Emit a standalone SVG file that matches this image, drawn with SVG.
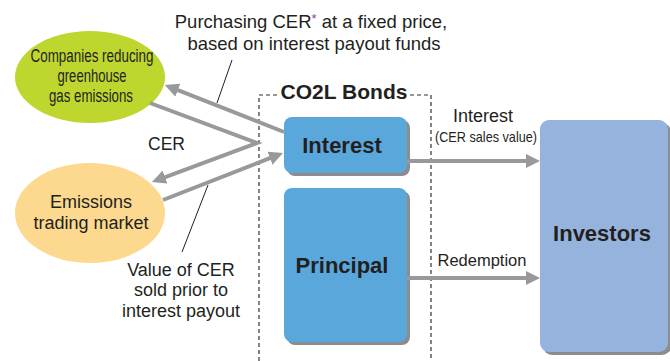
<svg xmlns="http://www.w3.org/2000/svg" width="670" height="361" viewBox="0 0 670 361">
  <style>
    text { font-family: "Liberation Sans", Arial, sans-serif; fill: #231f20; }
    .lbl { font-size: 18px; }
    .mid { text-anchor: middle; }
    .bold { font-weight: bold; }
    .narrow { font-size: 18px; }
    .flow { fill: none; stroke: #98999b; stroke-width: 4; }
    .leader { fill: none; stroke: #231f20; stroke-width: 1; }
    .frame { fill: none; stroke: #333; stroke-width: 1.2; stroke-dasharray: 4 3; }
    .shadow { fill: #8c8c8c; }
    .bond { fill: #5aa7dc; }
    .inv { fill: #95b3dd; }
  </style>
  <defs>
    <marker id="arrow" viewBox="0 0 14 14" markerWidth="14" markerHeight="14" refX="2" refY="7" orient="auto" markerUnits="userSpaceOnUse">
      <path d="M0,0 L14,7 L0,14 z" fill="#98999b"/>
    </marker>
  </defs>

  <!-- CO2L bond boundary -->
  <path class="frame" d="M259,361 V95 H279 M410,95 H431 V361"/>
  <text class="bold mid" x="344" y="99" style="font-size:21px">CO2L Bonds</text>

  <g id="companies">
    <ellipse cx="90" cy="77" rx="75" ry="46" fill="#bfd62f"/>
    <text class="narrow mid" x="92" y="62" textLength="123" lengthAdjust="spacingAndGlyphs">Companies reducing</text>
    <text class="narrow mid" x="92" y="82" textLength="69" lengthAdjust="spacingAndGlyphs">greenhouse</text>
    <text class="narrow mid" x="91" y="102" textLength="84" lengthAdjust="spacingAndGlyphs">gas emissions</text>
  </g>

  <g id="market">
    <ellipse cx="90" cy="213" rx="75" ry="50" fill="#fcd98e"/>
    <text class="lbl mid" x="91" y="208">Emissions</text>
    <text class="lbl mid" x="91" y="229">trading market</text>
  </g>

  <g id="interest">
    <rect class="shadow" x="287" y="120" width="123" height="56" rx="8"/>
    <rect class="bond" x="284" y="117" width="123" height="56" rx="8"/>
    <text class="bold mid" x="342" y="153" style="font-size:22px">Interest</text>
  </g>

  <g id="principal">
    <rect class="shadow" x="287" y="191" width="123" height="154" rx="8"/>
    <rect class="bond" x="284" y="188" width="123" height="154" rx="8"/>
    <text class="bold mid" x="342" y="273" style="font-size:22px">Principal</text>
  </g>

  <g id="investors">
    <rect class="shadow" x="543" y="123" width="128" height="232" rx="9"/>
    <rect class="inv" x="540" y="120" width="128" height="232" rx="9"/>
    <text class="bold mid" x="602" y="241" style="font-size:22px">Investors</text>
  </g>

  <g id="connectors">
    <!-- CER purchase flow back to companies -->
    <line class="flow" x1="284" y1="132" x2="176" y2="89.4" marker-end="url(#arrow)"/>
    <!-- CER routed from companies to the market -->
    <polyline class="flow" points="150,103 257,143 163.2,177.8" marker-end="url(#arrow)"/>
    <!-- sale proceeds into interest -->
    <line class="flow" x1="163" y1="200" x2="271.8" y2="157.4" marker-end="url(#arrow)"/>
    <!-- payouts to investors -->
    <line class="flow" x1="407" y1="161" x2="528" y2="161" marker-end="url(#arrow)"/>
    <line class="flow" x1="407" y1="278" x2="528" y2="278" marker-end="url(#arrow)"/>
    <!-- callout leaders -->
    <line class="leader" x1="232" y1="60" x2="217" y2="103"/>
    <line class="leader" x1="208" y1="185" x2="182" y2="252"/>
  </g>

  <g id="labels">
    <text class="mid" x="311" y="28" style="font-size:18.5px">Purchasing CER<tspan fill="#9b3a96" font-size="13" dy="-5">*</tspan><tspan dy="5"> at a fixed price,</tspan></text>
    <text class="mid" x="314" y="50" style="font-size:18.5px">based on interest payout funds</text>
    <text class="lbl" x="148" y="150" style="font-size:17.5px">CER</text>
    <text class="lbl mid" x="181" y="276">Value of CER</text>
    <text class="lbl mid" x="181" y="296">sold prior to</text>
    <text class="lbl mid" x="181" y="317">interest payout</text>
    <text class="lbl mid" x="483" y="122">Interest</text>
    <text class="mid" x="486" y="142" style="font-size:15px" textLength="102" lengthAdjust="spacingAndGlyphs">(CER sales value)</text>
    <text class="mid" x="482" y="266" style="font-size:16.5px">Redemption</text>
  </g>
</svg>
